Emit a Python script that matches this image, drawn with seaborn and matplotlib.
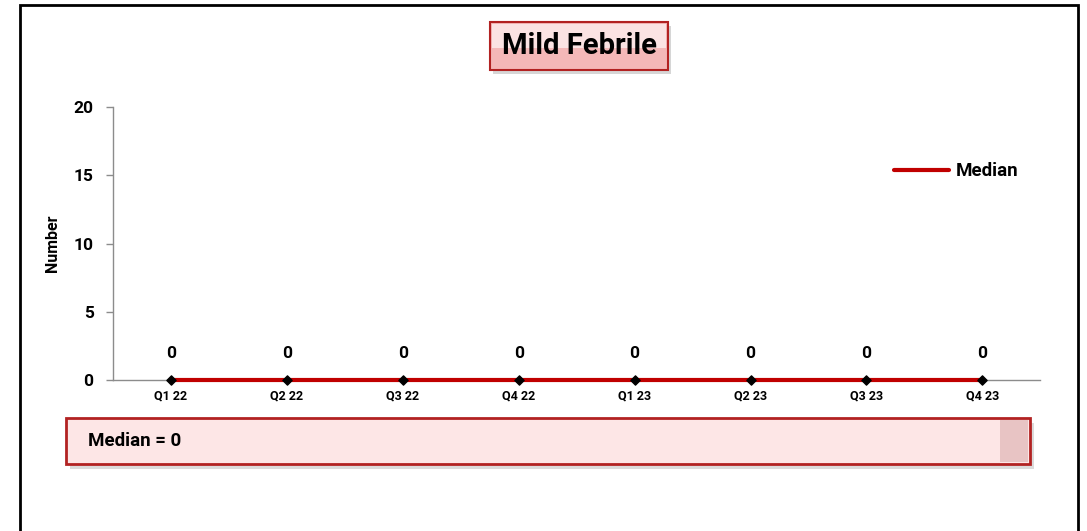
import matplotlib
matplotlib.use("Agg")
import matplotlib.pyplot as plt
import seaborn as sns
import pandas as pd
import numpy as np
from matplotlib.patches import Rectangle

# chart values
quarters = ["Q1 22", "Q2 22", "Q3 22", "Q4 22", "Q1 23", "Q2 23", "Q3 23", "Q4 23"]
median_vals = [0, 0, 0, 0, 0, 0, 0, 0]
y_ticks = [0, 5, 10, 15, 20]
chart_title = "Mild Febrile"
median_note = "Median = 0"

sns.set_theme(style="white")
plt.rcParams["font.family"] = ["Roboto", "DejaVu Sans"]
plt.rcParams["font.weight"] = "bold"
plt.rcParams["text.color"] = "black"
plt.rcParams["ytick.labelcolor"] = "black"
plt.rcParams["xtick.labelcolor"] = "black"
plt.rcParams["axes.labelcolor"] = "black"

df = pd.DataFrame({"quarter": quarters, "value": median_vals})
df["pos"] = np.arange(len(quarters))

fig = plt.figure(figsize=(10.87, 5.31), dpi=100)
ax = fig.add_axes([0.104, 0.2844, 0.853, 0.514])

sns.lineplot(data=df, x="pos", y="value", ax=ax, color="#C00000", linewidth=3.0,
             label="Median", zorder=3, clip_on=False)
ax.scatter(df["pos"], df["value"], marker="D", s=22, color="black", zorder=4,
           clip_on=False)

for x, v in zip(df["pos"], df["value"]):
    ax.annotate(str(v), (x, v), xytext=(0, 14), textcoords="offset points",
                ha="center", va="bottom", fontsize=12.5, fontweight="bold")

ax.set_xlim(-0.5, len(quarters) - 0.5)
ax.set_ylim(0, 20)
ax.set_yticks(y_ticks)
ax.set_xticks(df["pos"])
ax.set_xticklabels(quarters, fontsize=9, fontweight="bold")
ax.tick_params(axis="x", length=0, pad=7)
ax.tick_params(axis="y", length=5, width=1, color="#8c8c8c", direction="out",
               labelsize=12.5, pad=9, left=True)
for lab in ax.get_yticklabels():
    lab.set_fontweight("bold")
ax.set_xlabel("")
ax.set_ylabel("Number", fontsize=11.5, fontweight="bold", labelpad=10)
for side in ["top", "right"]:
    ax.spines[side].set_visible(False)
for side in ["left", "bottom"]:
    ax.spines[side].set_color("#8c8c8c")
    ax.spines[side].set_linewidth(1)

leg = ax.legend(loc="upper right", bbox_to_anchor=(0.995, 0.86), frameon=False,
                fontsize=13.5, handlelength=2.9, handletextpad=0.4)
for t in leg.get_texts():
    t.set_fontweight("bold")

W, H = 1087, 531

# outer frame
fig.patches.append(Rectangle((20 / W, -0.05), 1058 / W, 1.05 - 5 / H,
                             transform=fig.transFigure, fill=False,
                             edgecolor="black", linewidth=2))

# title box: shadow, body, lighter top half
fig.patches.append(Rectangle((493 / W, 1 - 74 / H), 178 / W, 48 / H,
                             transform=fig.transFigure, facecolor="#8a8a8a",
                             alpha=0.35, edgecolor="none", zorder=1))
fig.patches.append(Rectangle((490 / W, 1 - 70 / H), 178 / W, 48 / H,
                             transform=fig.transFigure, facecolor="#F4B8B8",
                             edgecolor="#B22222", linewidth=1.5, zorder=2))
fig.patches.append(Rectangle((492 / W, 1 - 48 / H), 174 / W, 24 / H,
                             transform=fig.transFigure, facecolor="#FBE3E3",
                             edgecolor="none", zorder=2))
fig.text(579 / W, 1 - 46 / H, chart_title, ha="center", va="center",
         fontsize=21, fontweight="bold", zorder=3)

# median box
fig.patches.append(Rectangle((70 / W, 1 - 469 / H), 964 / W, 46 / H,
                             transform=fig.transFigure, facecolor="#9a9a9a",
                             alpha=0.35, edgecolor="none", zorder=1))
fig.patches.append(Rectangle((66 / W, 1 - 464 / H), 964 / W, 46 / H,
                             transform=fig.transFigure, facecolor="#FDE6E6",
                             edgecolor="#B22222", linewidth=2, zorder=2))
fig.patches.append(Rectangle((1000 / W, 1 - 462 / H), 28 / W, 42 / H,
                             transform=fig.transFigure, facecolor="#E8C4C4",
                             edgecolor="none", zorder=2))
fig.text(88 / W, 1 - 441 / H, median_note, ha="left", va="center",
         fontsize=13.5, fontweight="bold", zorder=3)

fig.savefig("out.png", dpi=100)
